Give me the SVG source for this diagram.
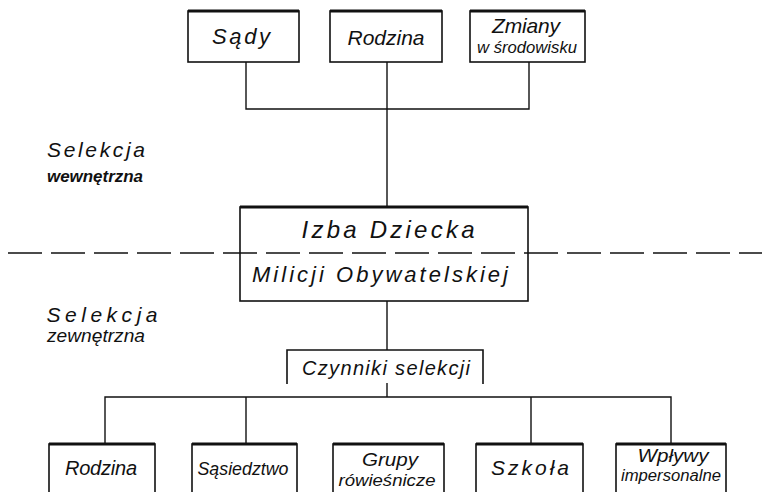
<svg xmlns="http://www.w3.org/2000/svg" width="762" height="492" viewBox="0 0 762 492">
<style>
text{font-family:"Liberation Sans",Arial,sans-serif;font-style:italic;fill:#111;text-anchor:middle}
.box{fill:none;stroke:#111;stroke-width:1.6}
.top{stroke:#111;stroke-width:3}
.ln{fill:none;stroke:#111;stroke-width:1.4}
</style>
<rect width="762" height="492" fill="#fff"/>
<g id="connectors">
<path class="ln" d="M246 62V109H529V62M387 62V207M387 301V350M387 383V397M105 444V397H671V444M246 397V444M531 397V444"/>
<path class="ln" d="M8 253H762" stroke-dasharray="34 9" stroke-width="1.6"/>
</g>
<g id="n-sady"><rect class="box" x="188" y="11" width="111" height="51"/><path class="top" d="M188 11H299"/><text style="font-size:22px" x="241" y="44" textLength="58" lengthAdjust="spacing">Sądy</text></g>
<g id="n-rodzina-top"><rect class="box" x="330" y="11" width="112" height="51"/><path class="top" d="M330 11H442"/><text style="font-size:21px" x="386" y="45" textLength="77" lengthAdjust="spacing">Rodzina</text></g>
<g id="n-zmiany"><rect class="box" x="470" y="11" width="115" height="51"/><path class="top" d="M470 11H585"/><text style="font-size:21px" x="526" y="33" textLength="68" lengthAdjust="spacing">Zmiany</text><text style="font-size:17px" x="527" y="53" textLength="100" lengthAdjust="spacingAndGlyphs">w środowisku</text></g>
<g id="l-wew"><text style="font-size:21px" x="96" y="157" textLength="98" lengthAdjust="spacing">Selekcja</text><text style="font-size:17px;font-weight:bold" x="95" y="182" textLength="96" lengthAdjust="spacingAndGlyphs">wewnętrzna</text></g>
<g id="l-zew"><text style="font-size:21px" x="102" y="322" textLength="111" lengthAdjust="spacing">Selekcja</text><text style="font-size:18px" x="96" y="342" textLength="98" lengthAdjust="spacingAndGlyphs">zewnętrzna</text></g>
<g id="n-izba"><rect class="box" x="240" y="207" width="288" height="94"/><path class="top" d="M240 207H528"/><text style="font-size:24px" x="388" y="238" textLength="173" lengthAdjust="spacing">Izba Dziecka</text><text style="font-size:22px" x="380" y="282" textLength="256" lengthAdjust="spacing">Milicji  Obywatelskiej</text></g>
<g id="n-czynniki"><path class="box" d="M287 384V350H483V384"/><text style="font-size:20px" x="386" y="375" textLength="168" lengthAdjust="spacing">Czynniki selekcji</text></g>
<g id="n-rodzina"><rect class="box" x="49" y="444" width="106" height="60"/><path class="top" d="M49 444H155"/><text style="font-size:20px" x="101" y="475" textLength="72" lengthAdjust="spacing">Rodzina</text></g>
<g id="n-sasiedztwo"><rect class="box" x="192" y="444" width="105" height="60"/><path class="top" d="M192 444H297"/><text style="font-size:19px" x="243" y="475" textLength="91" lengthAdjust="spacingAndGlyphs">Sąsiedztwo</text></g>
<g id="n-grupy"><rect class="box" x="333" y="444" width="111" height="60"/><path class="top" d="M333 444H444"/><text style="font-size:19px" x="390" y="466" textLength="56" lengthAdjust="spacingAndGlyphs">Grupy</text><text style="font-size:17px" x="387" y="486" textLength="97" lengthAdjust="spacingAndGlyphs">rówieśnicze</text></g>
<g id="n-szkola"><rect class="box" x="476" y="444" width="107" height="60"/><path class="top" d="M476 444H583"/><text style="font-size:21px" x="530" y="475" textLength="78" lengthAdjust="spacing">Szkoła</text></g>
<g id="n-wplywy"><rect class="box" x="616" y="444" width="110" height="60"/><path class="top" d="M616 444H726"/><text style="font-size:18px" x="673" y="462" textLength="71" lengthAdjust="spacingAndGlyphs">Wpływy</text><text style="font-size:16px" x="671" y="481" textLength="100" lengthAdjust="spacingAndGlyphs">impersonalne</text></g>
</svg>
